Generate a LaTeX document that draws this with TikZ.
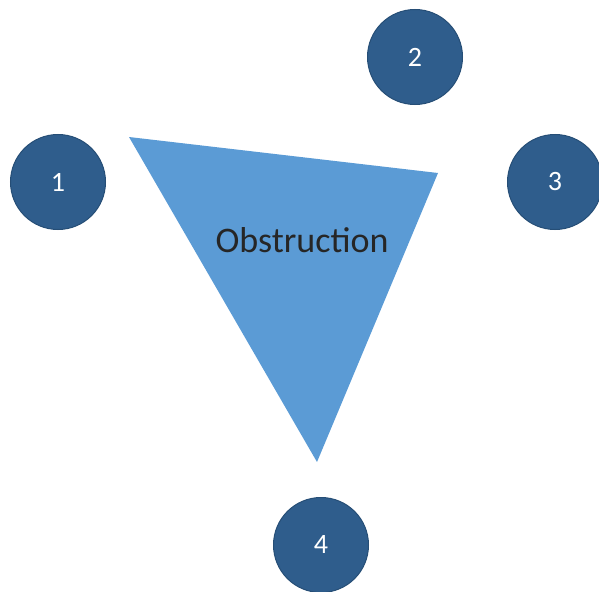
\documentclass[tikz,border=0pt]{standalone}
\usepackage{fontspec}
\setmainfont{Carlito}
\definecolor{nodeblue}{RGB}{47,93,140}
\definecolor{nodeline}{RGB}{38,78,118}
\definecolor{obstblue}{RGB}{91,155,213}
\begin{document}
\begin{tikzpicture}[x=1pt, y=-1pt, n/.style={circle, draw=nodeline, line width=1pt, fill=nodeblue, text=white, minimum size=95pt, inner sep=0pt, font=\fontsize{28}{28}\selectfont}]
			\useasboundingbox (0, 0) rectangle (599, 591);

			\coordinate (tl) at (129, 137);
			\coordinate (tr) at (438, 173);
			\coordinate (bt) at (317, 462);
			\fill[obstblue] (tl) -- (tr) -- (bt) -- cycle;
			\node[font=\fontsize{36}{36}\selectfont, text=black!85] (obst) at (302, 240) {Obstruction};

			\node[n] (n1) at (58, 182) {1};
			\node[n] (n2) at (415, 57) {2};
			\node[n] (n3) at (555, 182) {3};
			\node[n] (n4) at (321, 545) {4};
		\end{tikzpicture}
\end{document}
